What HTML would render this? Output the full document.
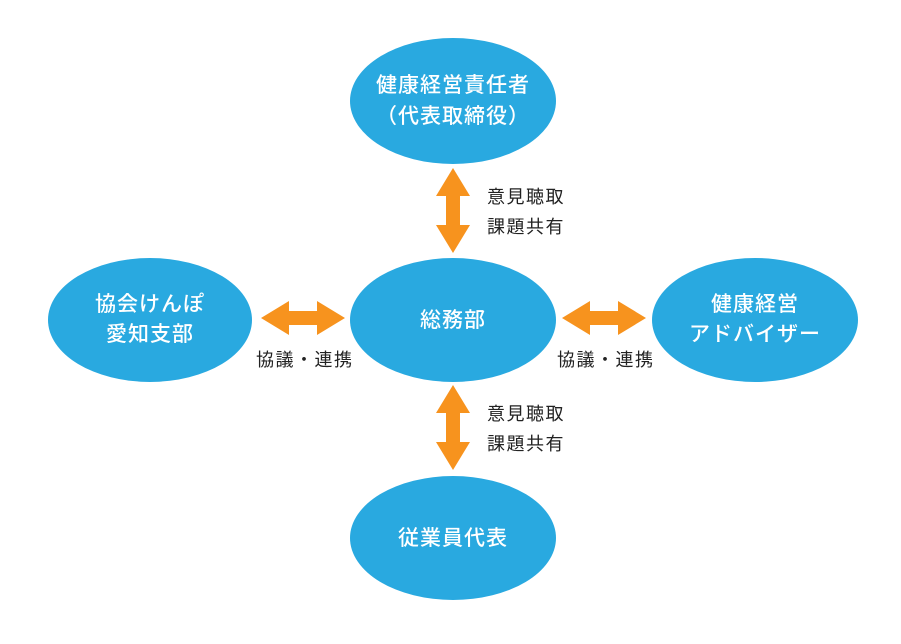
<!DOCTYPE html>
<html><head><meta charset="utf-8"><style>
body{margin:0;background:#fff;width:901px;height:639px;overflow:hidden}
svg text{font-family:"Liberation Sans","Noto Sans CJK JP",sans-serif}
</style></head><body>
<svg width="901" height="639" viewBox="0 0 901 639">
<g fill="#29a9e0">
<ellipse cx="453" cy="101" rx="103" ry="63"/>
<ellipse cx="453" cy="320" rx="103" ry="62"/>
<ellipse cx="150" cy="320" rx="102" ry="62"/>
<ellipse cx="755" cy="320" rx="103" ry="62"/>
<ellipse cx="453" cy="538" rx="103" ry="62"/>
</g>
<g fill="#f7931e">
<polygon points="453,168 470,196 460,196 460,225 470,225 453,253 436,225 446,225 446,196 436,196"/>
<polygon points="453,385 470,413 460,413 460,442 470,442 453,470 436,442 446,442 446,413 436,413"/>
<polygon points="261,318 289,301 289,311 317,311 317,301 345,318 317,335 317,325 289,325 289,335"/>
<polygon points="562,318 590,301 590,311 618,311 618,301 646,318 618,335 618,325 590,325 590,335"/>
</g>
<g fill="#fff" font-size="21" font-weight="500" letter-spacing="1" text-anchor="middle">
<text x="453" y="92">健康経営責任者</text>
<text x="453" y="123">（代表取締役）</text>
<text x="453" y="327">総務部</text>
<text x="150" y="311">協会けんぽ</text>
<text x="150" y="341">愛知支部</text>
<text x="755" y="311">健康経営</text>
<text x="755" y="341">アドバイザー</text>
<text x="453" y="545">従業員代表</text>
</g>
<g fill="#222" font-size="18" letter-spacing="1.5">
<text x="487" y="203">意見聴取</text>
<text x="487" y="233">課題共有</text>
<text x="487" y="420">意見聴取</text>
<text x="487" y="450">課題共有</text>
<text x="256" y="366">協議・連携</text>
<text x="557" y="366">協議・連携</text>
</g>
</svg>
</body></html>
